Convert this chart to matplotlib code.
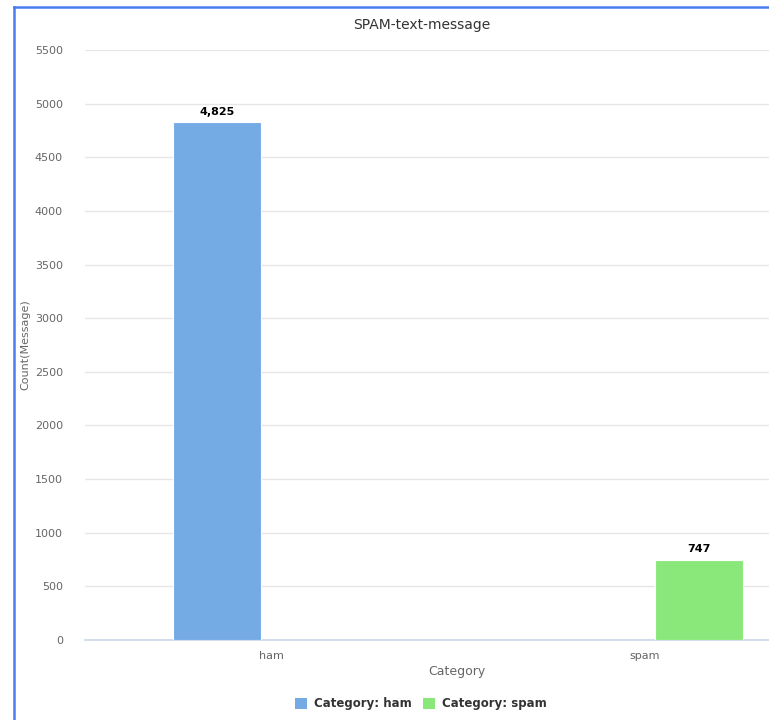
import matplotlib.pyplot as plt
from matplotlib.lines import Line2D
from matplotlib.patches import Patch

categories = ['ham', 'spam']
series_names = ['Category: ham', 'Category: spam']
counts = [4825, 747]
colors = ['#75abe5', '#8ae87a']
yticks = list(range(0, 5501, 500))

W, H = 769, 720
fig = plt.figure(figsize=(W / 100, H / 100), dpi=100)
fig.patch.set_facecolor('white')

# plot area: x 85..831 px (chart is cropped at the right), y 50..640 px
ax = fig.add_axes([85 / W, (H - 640) / H, 746 / W, 590 / H])
ax.set_xlim(-0.5, 1.5)
ax.set_ylim(0, 5500)

offset = 0.146
bw = 0.236
for i, (name, val, c) in enumerate(zip(series_names, counts, colors)):
    x = i + (offset if i == 1 else -offset)
    ax.bar(x, val, width=bw, color=c, edgecolor='white', linewidth=0.8, zorder=3)
    ax.annotate(f'{val:,}', (x, val), xytext=(0, 4), textcoords='offset points',
                ha='center', va='bottom', fontsize=8, fontweight='bold',
                color='#000000', zorder=4)

ax.set_yticks(yticks)
ax.set_yticklabels([str(t) for t in yticks])
ax.set_xticks(range(len(categories)))
ax.set_xticklabels(categories)
ax.grid(axis='y', color='#e6e6e6', linewidth=1, zorder=0)
ax.tick_params(axis='y', length=0, pad=16, labelsize=8, labelcolor='#666666')
ax.tick_params(axis='x', length=0, pad=8, labelsize=8, labelcolor='#666666')
for s in ['top', 'right', 'left']:
    ax.spines[s].set_visible(False)
ax.spines['bottom'].set_color('#ccd6eb')
ax.spines['bottom'].set_linewidth(1.2)
ax.set_axisbelow(True)

fig.text(422 / W, 1 - 25 / H, 'SPAM-text-message', ha='center', va='center',
         fontsize=10, color='#333333')
fig.text(25 / W, 1 - 345 / H, 'Count(Message)', ha='center', va='center',
         rotation=90, fontsize=8, color='#666666')
fig.text(457 / W, 1 - 672 / H, 'Category', ha='center', va='center',
         fontsize=9, color='#666666')

handles = [Patch(facecolor=c, edgecolor='none') for c in colors]
fig.legend(handles, series_names, loc='center', bbox_to_anchor=(421 / W, 1 - 704 / H),
           ncol=2, frameon=False, prop={'weight': 'bold', 'size': 8.5},
           handlelength=1.0, handleheight=1.0, handletextpad=0.6, columnspacing=1.0,
           labelcolor='#333333')

# chart frame (left and top edges visible)
fig.add_artist(Line2D([13.5 / W, 13.5 / W], [0, 1 - 6.5 / H], color='#4a7cf0', linewidth=1.8))
fig.add_artist(Line2D([13.5 / W, 1], [1 - 6.5 / H, 1 - 6.5 / H], color='#4a7cf0', linewidth=1.8))

fig.savefig('out.png', dpi=100)
